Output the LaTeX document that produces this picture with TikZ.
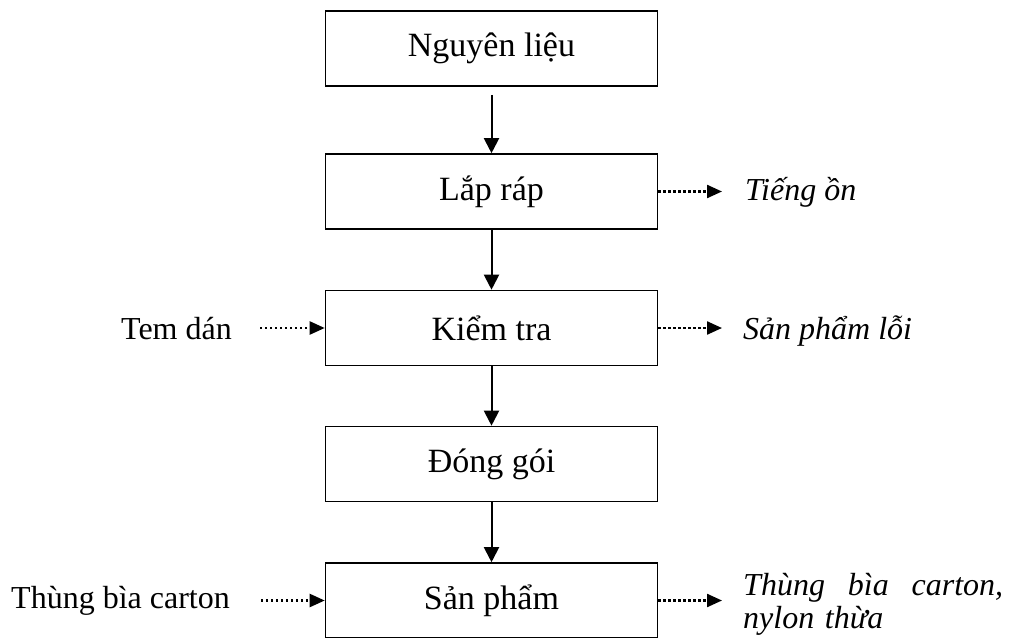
\documentclass[tikz,border=0pt]{standalone}
\usepackage{fontspec}
\setmainfont{Liberation Serif}
\usetikzlibrary{arrows.meta}
\begin{document}
\begin{tikzpicture}[x=1pt,y=-1pt,
  stepbox/.style={draw, line width=1.6pt, minimum width=332pt, minimum height=75pt,
    inner sep=0pt, font=\fontsize{34}{40}\selectfont},
  flow/.style={line width=2pt, -{Triangle[length=15pt,width=15pt]}},
  side/.style={line width=2.3pt, dash pattern=on 2.3pt off 2.7pt,
    -{Triangle[length=15pt,width=13pt]}},
  lbl/.style={inner sep=0pt, font=\fontsize{32}{33}\selectfont},
  ilbl/.style={inner sep=0pt, font=\fontsize{32}{33}\selectfont\itshape}]
\useasboundingbox (0,0) rectangle (1014,637);

% main process chain
\node[stepbox] (b1) at (491.5,48.5) {Nguyên liệu};
\node[stepbox] (b2) at (491.5,191.5) {Lắp ráp};
\node[stepbox] (b3) at (491.5,328) {Kiểm tra};
\node[stepbox] (b4) at (491.5,464) {Đóng gói};
\node[stepbox] (b5) at (491.5,600.5) {Sản phẩm};

\draw[flow] ([yshift=-8pt]b1.south) -- (b2.north);
\draw[flow] (b2) -- (b3);
\draw[flow] (b3) -- (b4);
\draw[flow] (b4) -- (b5);

% inputs
\node[lbl, anchor=base east] (i3) at (232,339) {Tem dán};
\coordinate (s3) at (260,328);
\draw[side] (s3) -- (b3.west);

\node[lbl, anchor=base east] (i5) at (230,608) {Thùng bìa carton};
\coordinate (s5) at (261,600.5);
\draw[side] (s5) -- (b5.west);

% outputs
\coordinate (t2) at (722,191.5);
\draw[side] (b2.east) -- (t2);
\node[ilbl, anchor=base west] (o2) at (745,200) {Tiếng ồn};

\coordinate (t3) at (722,328);
\draw[side] (b3.east) -- (t3);
\node[ilbl, anchor=base west] (o3) at (743,339) {Sản phẩm lỗi};

\coordinate (t5) at (722,600.5);
\draw[side] (b5.east) -- (t5);
\node[ilbl, anchor=base west, text width=262pt, align=left] (o5) at (743,595)
  {\hbox to 260pt{Thùng\hfill bìa\hfill carton,}\\nylon thừa};
\end{tikzpicture}
\end{document}
